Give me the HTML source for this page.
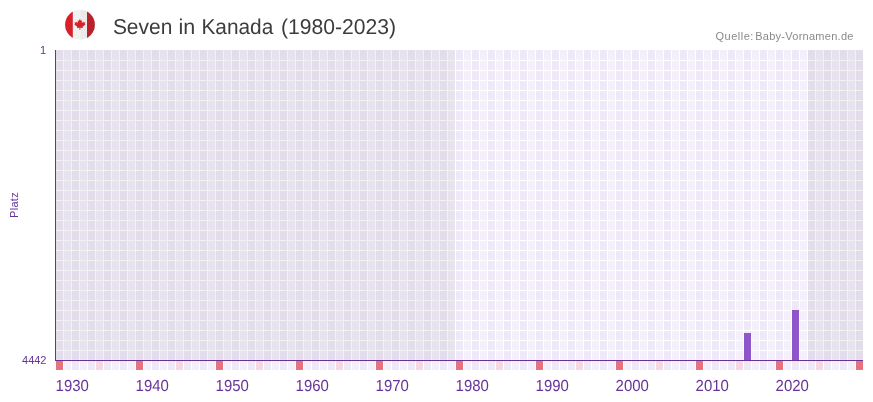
<!DOCTYPE html>
<html lang="de"><head><meta charset="utf-8"><title>Seven in Kanada (1980-2023)</title>
<style>
html,body{margin:0;padding:0;background:#fff;}
body{width:873px;height:402px;overflow:hidden;}
svg{display:block;}
text{font-family:"Liberation Sans",sans-serif;}
</style></head><body>
<svg width="873" height="402" viewBox="0 0 873 402">
<rect x="0" y="0" width="873" height="402" fill="#fff"/>

<g shape-rendering="crispEdges">
<rect x="56" y="50" width="7" height="310" fill="#efe8f8"/>
<rect x="64" y="50" width="7" height="310" fill="#f3f0fc"/>
<rect x="72" y="50" width="7" height="310" fill="#efe8f8"/>
<rect x="80" y="50" width="7" height="310" fill="#f3f0fc"/>
<rect x="88" y="50" width="7" height="310" fill="#efe8f8"/>
<rect x="96" y="50" width="7" height="310" fill="#f3f0fc"/>
<rect x="104" y="50" width="7" height="310" fill="#efe8f8"/>
<rect x="112" y="50" width="7" height="310" fill="#f3f0fc"/>
<rect x="120" y="50" width="7" height="310" fill="#efe8f8"/>
<rect x="128" y="50" width="7" height="310" fill="#f3f0fc"/>
<rect x="136" y="50" width="7" height="310" fill="#efe8f8"/>
<rect x="144" y="50" width="7" height="310" fill="#f3f0fc"/>
<rect x="152" y="50" width="7" height="310" fill="#efe8f8"/>
<rect x="160" y="50" width="7" height="310" fill="#f3f0fc"/>
<rect x="168" y="50" width="7" height="310" fill="#efe8f8"/>
<rect x="176" y="50" width="7" height="310" fill="#f3f0fc"/>
<rect x="184" y="50" width="7" height="310" fill="#efe8f8"/>
<rect x="192" y="50" width="7" height="310" fill="#f3f0fc"/>
<rect x="200" y="50" width="7" height="310" fill="#efe8f8"/>
<rect x="208" y="50" width="7" height="310" fill="#f3f0fc"/>
<rect x="216" y="50" width="7" height="310" fill="#efe8f8"/>
<rect x="224" y="50" width="7" height="310" fill="#f3f0fc"/>
<rect x="232" y="50" width="7" height="310" fill="#efe8f8"/>
<rect x="240" y="50" width="7" height="310" fill="#f3f0fc"/>
<rect x="248" y="50" width="7" height="310" fill="#efe8f8"/>
<rect x="256" y="50" width="7" height="310" fill="#f3f0fc"/>
<rect x="264" y="50" width="7" height="310" fill="#efe8f8"/>
<rect x="272" y="50" width="7" height="310" fill="#f3f0fc"/>
<rect x="280" y="50" width="7" height="310" fill="#efe8f8"/>
<rect x="288" y="50" width="7" height="310" fill="#f3f0fc"/>
<rect x="296" y="50" width="7" height="310" fill="#efe8f8"/>
<rect x="304" y="50" width="7" height="310" fill="#f3f0fc"/>
<rect x="312" y="50" width="7" height="310" fill="#efe8f8"/>
<rect x="320" y="50" width="7" height="310" fill="#f3f0fc"/>
<rect x="328" y="50" width="7" height="310" fill="#efe8f8"/>
<rect x="336" y="50" width="7" height="310" fill="#f3f0fc"/>
<rect x="344" y="50" width="7" height="310" fill="#efe8f8"/>
<rect x="352" y="50" width="7" height="310" fill="#f3f0fc"/>
<rect x="360" y="50" width="7" height="310" fill="#efe8f8"/>
<rect x="368" y="50" width="7" height="310" fill="#f3f0fc"/>
<rect x="376" y="50" width="7" height="310" fill="#efe8f8"/>
<rect x="384" y="50" width="7" height="310" fill="#f3f0fc"/>
<rect x="392" y="50" width="7" height="310" fill="#efe8f8"/>
<rect x="400" y="50" width="7" height="310" fill="#f3f0fc"/>
<rect x="408" y="50" width="7" height="310" fill="#efe8f8"/>
<rect x="416" y="50" width="7" height="310" fill="#f3f0fc"/>
<rect x="424" y="50" width="7" height="310" fill="#efe8f8"/>
<rect x="432" y="50" width="7" height="310" fill="#f3f0fc"/>
<rect x="440" y="50" width="7" height="310" fill="#efe8f8"/>
<rect x="448" y="50" width="7" height="310" fill="#f3f0fc"/>
<rect x="456" y="50" width="7" height="310" fill="#efe8f8"/>
<rect x="464" y="50" width="7" height="310" fill="#f3f0fc"/>
<rect x="472" y="50" width="7" height="310" fill="#efe8f8"/>
<rect x="480" y="50" width="7" height="310" fill="#f3f0fc"/>
<rect x="488" y="50" width="7" height="310" fill="#efe8f8"/>
<rect x="496" y="50" width="7" height="310" fill="#f3f0fc"/>
<rect x="504" y="50" width="7" height="310" fill="#efe8f8"/>
<rect x="512" y="50" width="7" height="310" fill="#f3f0fc"/>
<rect x="520" y="50" width="7" height="310" fill="#efe8f8"/>
<rect x="528" y="50" width="7" height="310" fill="#f3f0fc"/>
<rect x="536" y="50" width="7" height="310" fill="#efe8f8"/>
<rect x="544" y="50" width="7" height="310" fill="#f3f0fc"/>
<rect x="552" y="50" width="7" height="310" fill="#efe8f8"/>
<rect x="560" y="50" width="7" height="310" fill="#f3f0fc"/>
<rect x="568" y="50" width="7" height="310" fill="#efe8f8"/>
<rect x="576" y="50" width="7" height="310" fill="#f3f0fc"/>
<rect x="584" y="50" width="7" height="310" fill="#efe8f8"/>
<rect x="592" y="50" width="7" height="310" fill="#f3f0fc"/>
<rect x="600" y="50" width="7" height="310" fill="#efe8f8"/>
<rect x="608" y="50" width="7" height="310" fill="#f3f0fc"/>
<rect x="616" y="50" width="7" height="310" fill="#efe8f8"/>
<rect x="624" y="50" width="7" height="310" fill="#f3f0fc"/>
<rect x="632" y="50" width="7" height="310" fill="#efe8f8"/>
<rect x="640" y="50" width="7" height="310" fill="#f3f0fc"/>
<rect x="648" y="50" width="7" height="310" fill="#efe8f8"/>
<rect x="656" y="50" width="7" height="310" fill="#f3f0fc"/>
<rect x="664" y="50" width="7" height="310" fill="#efe8f8"/>
<rect x="672" y="50" width="7" height="310" fill="#f3f0fc"/>
<rect x="680" y="50" width="7" height="310" fill="#efe8f8"/>
<rect x="688" y="50" width="7" height="310" fill="#f3f0fc"/>
<rect x="696" y="50" width="7" height="310" fill="#efe8f8"/>
<rect x="704" y="50" width="7" height="310" fill="#f3f0fc"/>
<rect x="712" y="50" width="7" height="310" fill="#efe8f8"/>
<rect x="720" y="50" width="7" height="310" fill="#f3f0fc"/>
<rect x="728" y="50" width="7" height="310" fill="#efe8f8"/>
<rect x="736" y="50" width="7" height="310" fill="#f3f0fc"/>
<rect x="744" y="50" width="7" height="310" fill="#efe8f8"/>
<rect x="752" y="50" width="7" height="310" fill="#f3f0fc"/>
<rect x="760" y="50" width="7" height="310" fill="#efe8f8"/>
<rect x="768" y="50" width="7" height="310" fill="#f3f0fc"/>
<rect x="776" y="50" width="7" height="310" fill="#efe8f8"/>
<rect x="784" y="50" width="7" height="310" fill="#f3f0fc"/>
<rect x="792" y="50" width="7" height="310" fill="#efe8f8"/>
<rect x="800" y="50" width="7" height="310" fill="#f3f0fc"/>
<rect x="808" y="50" width="7" height="310" fill="#efe8f8"/>
<rect x="816" y="50" width="7" height="310" fill="#f3f0fc"/>
<rect x="824" y="50" width="7" height="310" fill="#efe8f8"/>
<rect x="832" y="50" width="7" height="310" fill="#f3f0fc"/>
<rect x="840" y="50" width="7" height="310" fill="#efe8f8"/>
<rect x="848" y="50" width="7" height="310" fill="#f3f0fc"/>
<rect x="856" y="50" width="7" height="310" fill="#efe8f8"/>
<rect x="56" y="60" width="807" height="1" fill="#fff"/>
<rect x="56" y="70" width="807" height="1" fill="#fff"/>
<rect x="56" y="80" width="807" height="1" fill="#fff"/>
<rect x="56" y="90" width="807" height="1" fill="#fff"/>
<rect x="56" y="100" width="807" height="1" fill="#fff"/>
<rect x="56" y="110" width="807" height="1" fill="#fff"/>
<rect x="56" y="120" width="807" height="1" fill="#fff"/>
<rect x="56" y="130" width="807" height="1" fill="#fff"/>
<rect x="56" y="140" width="807" height="1" fill="#fff"/>
<rect x="56" y="150" width="807" height="1" fill="#fff"/>
<rect x="56" y="160" width="807" height="1" fill="#fff"/>
<rect x="56" y="170" width="807" height="1" fill="#fff"/>
<rect x="56" y="180" width="807" height="1" fill="#fff"/>
<rect x="56" y="190" width="807" height="1" fill="#fff"/>
<rect x="56" y="200" width="807" height="1" fill="#fff"/>
<rect x="56" y="210" width="807" height="1" fill="#fff"/>
<rect x="56" y="220" width="807" height="1" fill="#fff"/>
<rect x="56" y="230" width="807" height="1" fill="#fff"/>
<rect x="56" y="240" width="807" height="1" fill="#fff"/>
<rect x="56" y="250" width="807" height="1" fill="#fff"/>
<rect x="56" y="260" width="807" height="1" fill="#fff"/>
<rect x="56" y="270" width="807" height="1" fill="#fff"/>
<rect x="56" y="280" width="807" height="1" fill="#fff"/>
<rect x="56" y="290" width="807" height="1" fill="#fff"/>
<rect x="56" y="300" width="807" height="1" fill="#fff"/>
<rect x="56" y="310" width="807" height="1" fill="#fff"/>
<rect x="56" y="320" width="807" height="1" fill="#fff"/>
<rect x="56" y="330" width="807" height="1" fill="#fff"/>
<rect x="56" y="340" width="807" height="1" fill="#fff"/>
<rect x="56" y="350" width="807" height="1" fill="#fff"/>
<rect x="56" y="359" width="807" height="1" fill="#fff" fill-opacity="0.4"/>
<rect x="56" y="50" width="399" height="310" fill="#000" fill-opacity="0.05"/>
<rect x="808" y="50" width="55" height="310" fill="#000" fill-opacity="0.05"/>
<rect x="744" y="333" width="7" height="27" fill="#8e56c8"/>
<rect x="792" y="310" width="7" height="50" fill="#8e56c8"/>
<rect x="56" y="361" width="7" height="9" fill="#e5737d"/>
<rect x="64" y="361" width="7" height="9" fill="#f3f0fc"/>
<rect x="72" y="361" width="7" height="9" fill="#efe8f8"/>
<rect x="80" y="361" width="7" height="9" fill="#f3f0fc"/>
<rect x="88" y="361" width="7" height="9" fill="#efe8f8"/>
<rect x="96" y="361" width="7" height="9" fill="#f5d7e1"/>
<rect x="104" y="361" width="7" height="9" fill="#efe8f8"/>
<rect x="112" y="361" width="7" height="9" fill="#f3f0fc"/>
<rect x="120" y="361" width="7" height="9" fill="#efe8f8"/>
<rect x="128" y="361" width="7" height="9" fill="#f3f0fc"/>
<rect x="136" y="361" width="7" height="9" fill="#e5737d"/>
<rect x="144" y="361" width="7" height="9" fill="#f3f0fc"/>
<rect x="152" y="361" width="7" height="9" fill="#efe8f8"/>
<rect x="160" y="361" width="7" height="9" fill="#f3f0fc"/>
<rect x="168" y="361" width="7" height="9" fill="#efe8f8"/>
<rect x="176" y="361" width="7" height="9" fill="#f5d7e1"/>
<rect x="184" y="361" width="7" height="9" fill="#efe8f8"/>
<rect x="192" y="361" width="7" height="9" fill="#f3f0fc"/>
<rect x="200" y="361" width="7" height="9" fill="#efe8f8"/>
<rect x="208" y="361" width="7" height="9" fill="#f3f0fc"/>
<rect x="216" y="361" width="7" height="9" fill="#e5737d"/>
<rect x="224" y="361" width="7" height="9" fill="#f3f0fc"/>
<rect x="232" y="361" width="7" height="9" fill="#efe8f8"/>
<rect x="240" y="361" width="7" height="9" fill="#f3f0fc"/>
<rect x="248" y="361" width="7" height="9" fill="#efe8f8"/>
<rect x="256" y="361" width="7" height="9" fill="#f5d7e1"/>
<rect x="264" y="361" width="7" height="9" fill="#efe8f8"/>
<rect x="272" y="361" width="7" height="9" fill="#f3f0fc"/>
<rect x="280" y="361" width="7" height="9" fill="#efe8f8"/>
<rect x="288" y="361" width="7" height="9" fill="#f3f0fc"/>
<rect x="296" y="361" width="7" height="9" fill="#e5737d"/>
<rect x="304" y="361" width="7" height="9" fill="#f3f0fc"/>
<rect x="312" y="361" width="7" height="9" fill="#efe8f8"/>
<rect x="320" y="361" width="7" height="9" fill="#f3f0fc"/>
<rect x="328" y="361" width="7" height="9" fill="#efe8f8"/>
<rect x="336" y="361" width="7" height="9" fill="#f5d7e1"/>
<rect x="344" y="361" width="7" height="9" fill="#efe8f8"/>
<rect x="352" y="361" width="7" height="9" fill="#f3f0fc"/>
<rect x="360" y="361" width="7" height="9" fill="#efe8f8"/>
<rect x="368" y="361" width="7" height="9" fill="#f3f0fc"/>
<rect x="376" y="361" width="7" height="9" fill="#e5737d"/>
<rect x="384" y="361" width="7" height="9" fill="#f3f0fc"/>
<rect x="392" y="361" width="7" height="9" fill="#efe8f8"/>
<rect x="400" y="361" width="7" height="9" fill="#f3f0fc"/>
<rect x="408" y="361" width="7" height="9" fill="#efe8f8"/>
<rect x="416" y="361" width="7" height="9" fill="#f5d7e1"/>
<rect x="424" y="361" width="7" height="9" fill="#efe8f8"/>
<rect x="432" y="361" width="7" height="9" fill="#f3f0fc"/>
<rect x="440" y="361" width="7" height="9" fill="#efe8f8"/>
<rect x="448" y="361" width="7" height="9" fill="#f3f0fc"/>
<rect x="456" y="361" width="7" height="9" fill="#e5737d"/>
<rect x="464" y="361" width="7" height="9" fill="#f3f0fc"/>
<rect x="472" y="361" width="7" height="9" fill="#efe8f8"/>
<rect x="480" y="361" width="7" height="9" fill="#f3f0fc"/>
<rect x="488" y="361" width="7" height="9" fill="#efe8f8"/>
<rect x="496" y="361" width="7" height="9" fill="#f5d7e1"/>
<rect x="504" y="361" width="7" height="9" fill="#efe8f8"/>
<rect x="512" y="361" width="7" height="9" fill="#f3f0fc"/>
<rect x="520" y="361" width="7" height="9" fill="#efe8f8"/>
<rect x="528" y="361" width="7" height="9" fill="#f3f0fc"/>
<rect x="536" y="361" width="7" height="9" fill="#e5737d"/>
<rect x="544" y="361" width="7" height="9" fill="#f3f0fc"/>
<rect x="552" y="361" width="7" height="9" fill="#efe8f8"/>
<rect x="560" y="361" width="7" height="9" fill="#f3f0fc"/>
<rect x="568" y="361" width="7" height="9" fill="#efe8f8"/>
<rect x="576" y="361" width="7" height="9" fill="#f5d7e1"/>
<rect x="584" y="361" width="7" height="9" fill="#efe8f8"/>
<rect x="592" y="361" width="7" height="9" fill="#f3f0fc"/>
<rect x="600" y="361" width="7" height="9" fill="#efe8f8"/>
<rect x="608" y="361" width="7" height="9" fill="#f3f0fc"/>
<rect x="616" y="361" width="7" height="9" fill="#e5737d"/>
<rect x="624" y="361" width="7" height="9" fill="#f3f0fc"/>
<rect x="632" y="361" width="7" height="9" fill="#efe8f8"/>
<rect x="640" y="361" width="7" height="9" fill="#f3f0fc"/>
<rect x="648" y="361" width="7" height="9" fill="#efe8f8"/>
<rect x="656" y="361" width="7" height="9" fill="#f5d7e1"/>
<rect x="664" y="361" width="7" height="9" fill="#efe8f8"/>
<rect x="672" y="361" width="7" height="9" fill="#f3f0fc"/>
<rect x="680" y="361" width="7" height="9" fill="#efe8f8"/>
<rect x="688" y="361" width="7" height="9" fill="#f3f0fc"/>
<rect x="696" y="361" width="7" height="9" fill="#e5737d"/>
<rect x="704" y="361" width="7" height="9" fill="#f3f0fc"/>
<rect x="712" y="361" width="7" height="9" fill="#efe8f8"/>
<rect x="720" y="361" width="7" height="9" fill="#f3f0fc"/>
<rect x="728" y="361" width="7" height="9" fill="#efe8f8"/>
<rect x="736" y="361" width="7" height="9" fill="#f5d7e1"/>
<rect x="744" y="361" width="7" height="9" fill="#efe8f8"/>
<rect x="752" y="361" width="7" height="9" fill="#f3f0fc"/>
<rect x="760" y="361" width="7" height="9" fill="#efe8f8"/>
<rect x="768" y="361" width="7" height="9" fill="#f3f0fc"/>
<rect x="776" y="361" width="7" height="9" fill="#e5737d"/>
<rect x="784" y="361" width="7" height="9" fill="#f3f0fc"/>
<rect x="792" y="361" width="7" height="9" fill="#efe8f8"/>
<rect x="800" y="361" width="7" height="9" fill="#f3f0fc"/>
<rect x="808" y="361" width="7" height="9" fill="#efe8f8"/>
<rect x="816" y="361" width="7" height="9" fill="#f5d7e1"/>
<rect x="824" y="361" width="7" height="9" fill="#efe8f8"/>
<rect x="832" y="361" width="7" height="9" fill="#f3f0fc"/>
<rect x="840" y="361" width="7" height="9" fill="#efe8f8"/>
<rect x="848" y="361" width="7" height="9" fill="#f3f0fc"/>
<rect x="856" y="361" width="7" height="9" fill="#e5737d"/>
<rect x="55" y="50" width="1" height="311" fill="#663399"/>
<rect x="55" y="360" width="808" height="1" fill="#663399"/>
</g>
<defs><clipPath id="fc"><circle cx="80" cy="24.7" r="14.9"/></clipPath></defs>
<g clip-path="url(#fc)">
<rect x="64" y="9" width="32" height="32" fill="#f2f2f2"/>
<rect x="80.5" y="9" width="7" height="32" fill="#eaeaea"/>
<rect x="64" y="9" width="8.8" height="32" fill="#d8202a"/>
<rect x="87" y="9" width="10" height="32" fill="#b92228"/>
<path fill="#d8202a" transform="translate(0,18.9) scale(1,0.92) translate(0,-18.6)" d="M79.9 18.6 l1.2 2.2 1.1-.6 -.5 3 1.5-1.6 .4 1 1.8-.4 -.7 2 .8.5 -3 2.5 .4 1.4 -2.6-.4 0 2.6 h-.8 l0-2.6 -2.6.4 .4-1.4 -3-2.5 .8-.5 -.7-2 1.8.4 .4-1 1.5 1.6 -.5-3 1.1.6z"/>
</g>

<text transform="translate(112.9,34) rotate(0.05) scale(0.975,1)" font-size="21.5" fill="#3c3c3c">Seven</text>
<text transform="translate(178.4,34) rotate(0.05) scale(1.0,1)" font-size="21.5" fill="#3c3c3c">in</text>
<text transform="translate(201.4,34) rotate(0.05) scale(0.97,1)" font-size="21.5" fill="#3c3c3c">Kanada</text>
<text transform="translate(281.0,34) rotate(0.05) scale(0.982,1)" font-size="21.5" fill="#3c3c3c">(1980-2023)</text>
<text y="40" font-size="11" fill="#8a8a8a"><tspan x="715.5" letter-spacing="0.5">Quelle:</tspan> <tspan x="755.2" letter-spacing="0.27">Baby-Vornamen.de</tspan></text>
<text x="46.2" y="54" font-size="11" fill="#663399" text-anchor="end">1</text>
<text x="46.5" y="364" font-size="11" fill="#663399" text-anchor="end">4442</text>
<text transform="translate(18.3,205) rotate(-90)" font-size="11" fill="#663399" text-anchor="middle" letter-spacing="0.3">Platz</text>
<text transform="translate(55.6,391) rotate(0.05) scale(0.935,1)" font-size="16" fill="#663399">1930</text>
<text transform="translate(135.6,391) rotate(0.05) scale(0.935,1)" font-size="16" fill="#663399">1940</text>
<text transform="translate(215.6,391) rotate(0.05) scale(0.935,1)" font-size="16" fill="#663399">1950</text>
<text transform="translate(295.6,391) rotate(0.05) scale(0.935,1)" font-size="16" fill="#663399">1960</text>
<text transform="translate(375.6,391) rotate(0.05) scale(0.935,1)" font-size="16" fill="#663399">1970</text>
<text transform="translate(455.6,391) rotate(0.05) scale(0.935,1)" font-size="16" fill="#663399">1980</text>
<text transform="translate(535.6,391) rotate(0.05) scale(0.935,1)" font-size="16" fill="#663399">1990</text>
<text transform="translate(615.6,391) rotate(0.05) scale(0.935,1)" font-size="16" fill="#663399">2000</text>
<text transform="translate(695.6,391) rotate(0.05) scale(0.935,1)" font-size="16" fill="#663399">2010</text>
<text transform="translate(775.6,391) rotate(0.05) scale(0.935,1)" font-size="16" fill="#663399">2020</text>
</svg></body></html>
